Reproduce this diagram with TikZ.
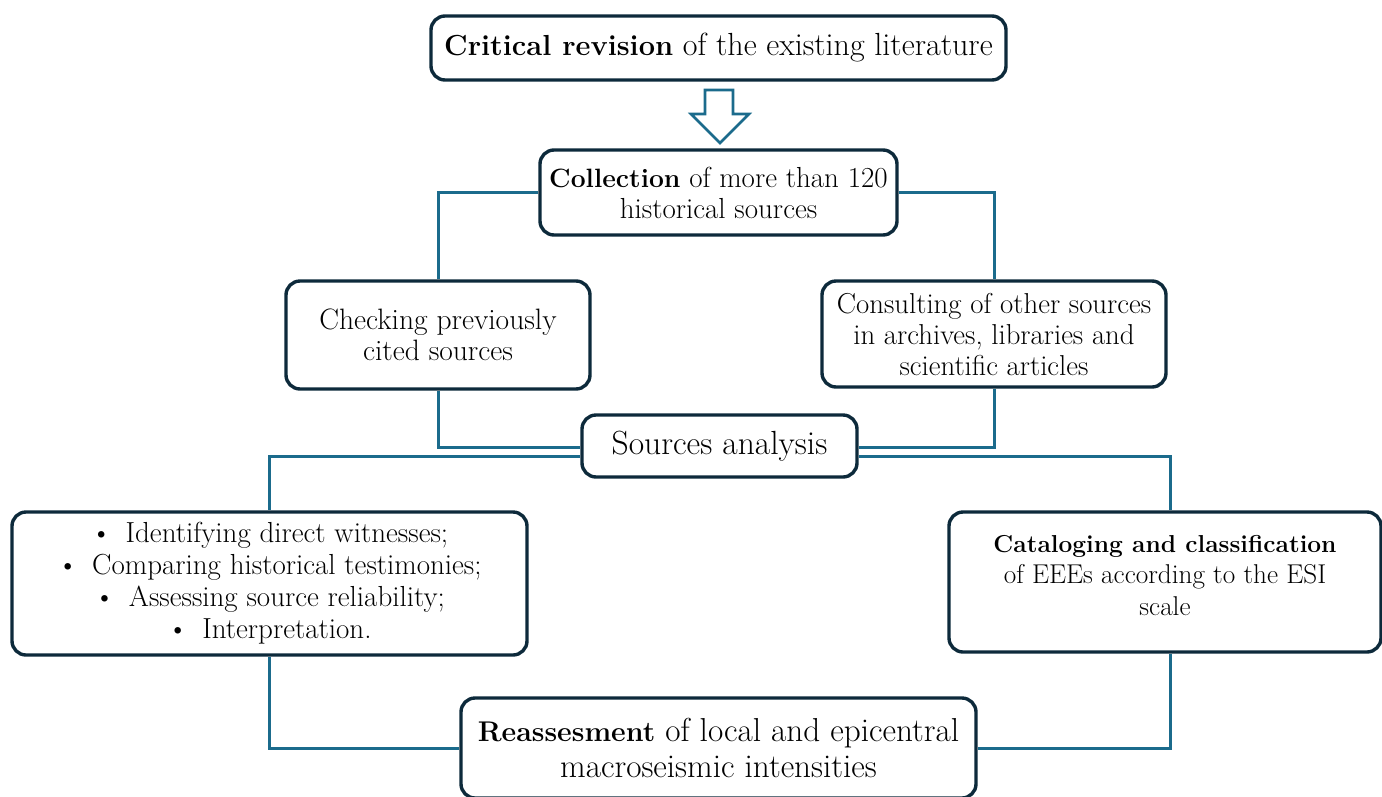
\documentclass[tikz,border=0pt]{standalone}
\usetikzlibrary{calc}
\definecolor{boxline}{HTML}{0D2A3B}
\definecolor{linkline}{HTML}{1B6B8C}
\tikzset{
  stepbox/.style={draw=boxline, line width=3.4pt, rounded corners=14pt, fill=white,
    align=center, inner sep=0pt, text=black},
  link/.style={draw=linkline, line width=3pt},
  hollowarrow/.style={draw=linkline, line width=2.6pt, fill=white, line join=miter},
}
\newcommand{\fs}[2]{\fontsize{#1}{#2}\selectfont}
\newcommand{\bul}{\textbullet\hspace{14pt}}
\begin{document}
\begin{tikzpicture}[x=1pt, y=-1pt]
\useasboundingbox (0,0) rectangle (1382,796);

% boxes
\node[stepbox, minimum width=575pt, minimum height=64pt, font=\fs{32}{34}] (top) at (718.5,48)
  {{\fs{29}{34}\bfseries Critical revision} of the existing literature};
\node[stepbox, minimum width=357pt, minimum height=85pt, font=\fs{29}{31}] (coll) at (718.5,192.5)
  {{\fs{26.5}{31}\bfseries Collection} of more than 120\\historical sources};
\node[stepbox, minimum width=304pt, minimum height=108pt, font=\fs{29.5}{31}] (check) at (438,335)
  {Checking previously\\cited sources};
\node[stepbox, minimum width=344pt, minimum height=106pt, font=\fs{28.8}{31}] (consult) at (994,334)
  {Consulting of other sources\\in archives, libraries and\\scientific articles};
\node[stepbox, minimum width=275pt, minimum height=62pt, font=\fs{33.5}{36}] (sa) at (719.5,446)
  {Sources analysis};
\node[stepbox, minimum width=515pt, minimum height=143pt, font=\fs{29}{32}] (ident) at (269.5,583.5)
  {\bul Identifying direct witnesses;\\\bul Comparing historical testimonies;\\
   \bul Assessing source reliability;\\\bul Interpretation.};
\node[stepbox, minimum width=432pt, minimum height=140pt, font=\fs{27.2}{31.5}] (catal) at (1165,582)
  {{\fs{24.5}{31.5}\bfseries Cataloging and classification}\\of EEEs according to the ESI\\scale\rule[-14pt]{0pt}{0pt}};
\node[stepbox, minimum width=515pt, minimum height=100pt, font=\fs{33.2}{36}] (reass) at (718.5,748)
  {{\fs{28.5}{36}\bfseries Reassesment} of local and epicentral\\macroseismic intensities};

% hollow block arrow between the first two boxes
\draw[hollowarrow] (705,90) -- (733,90) -- (733,114) -- (749,114) -- (720,143)
  -- (691,114) -- (705,114) -- cycle;

% connection points on the analysis box and the catalogue box
\coordinate (saLup) at ($(sa.west)+(0,1)$);
\coordinate (saRup) at ($(sa.east)+(0,1)$);
\coordinate (saLlo) at ($(sa.west)+(0,10)$);
\coordinate (saRlo) at ($(sa.east)+(0,10)$);
\coordinate (catN) at ($(catal.north)+(5,0)$);
\coordinate (catS) at ($(catal.south)+(5,0)$);

% connectors
\draw[link] (coll.west) -| (check.north);
\draw[link] (coll.east) -| (consult.north);
\draw[link] (check.south) |- (saLup);
\draw[link] (consult.south) |- (saRup);
\draw[link] (saLlo) -| (ident.north);
\draw[link] (saRlo) -| (catN);
\draw[link] (ident.south) |- (reass.west);
\draw[link] (catS) |- (reass.east);
\end{tikzpicture}
\end{document}
